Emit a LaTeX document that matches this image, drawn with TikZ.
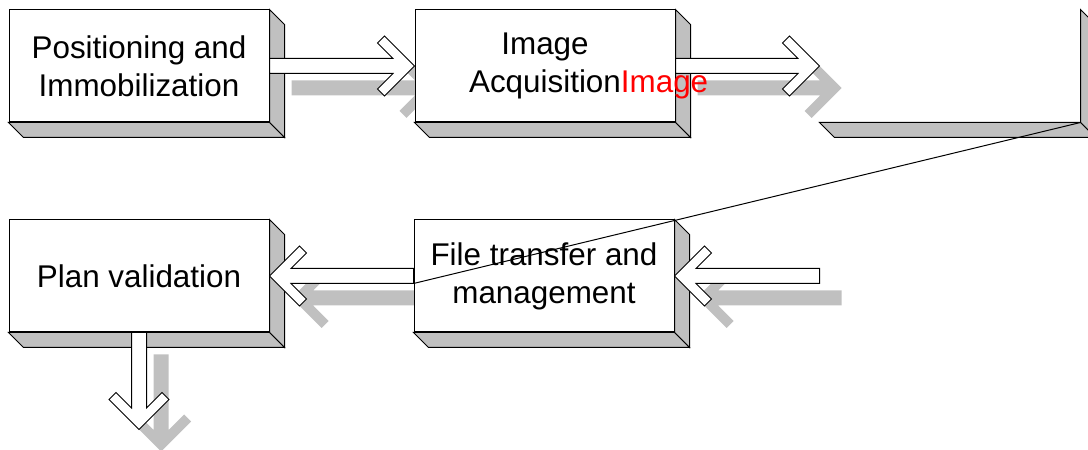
\documentclass[tikz,border=0pt]{standalone}
\usepackage{fontspec}
\setmainfont{Liberation Sans}
\usetikzlibrary{positioning,calc}

\pgfdeclarelayer{shade}
\pgfsetlayers{shade,main}

\definecolor{facegray}{RGB}{192,192,192}

\tikzset{
    stage/.style={draw, fill=white, line width=0.5pt, minimum width=130pt,
        minimum height=56pt, inner sep=0pt, align=center,
        font=\fontsize{15.7pt}{19pt}\selectfont},
    blankstage/.style={stage, draw=none, fill=none},
    face/.style={draw, fill=facegray, line width=0.5pt},
    arrowbody/.style={draw, fill=white, line width=0.5pt},
    arrowshade/.style={fill=facegray},
}

% side and bottom faces of a stage box
\newcommand{\stagefaces}[1]{%
    \filldraw[face] (#1.north east) -- ++(7.5pt,-7.5pt)
        -- ($(#1.south east)+(7.5pt,-7.5pt)$) -- (#1.south east) -- cycle;
    \filldraw[face] (#1.south west) -- (#1.south east) -- ++(7.5pt,-7.5pt)
        -- ($(#1.south west)+(7.5pt,-7.5pt)$) -- cycle;
}

% #1 style, #2 offset, #3 tail, #4 tip
\newcommand{\arrowpath}[4]{%
    \path[#1] let \p1=(#3), \p2=(#4),
        \n1={veclen(\x2-\x1,\y2-\y1)}, \n2={atan2(\y2-\y1,\x2-\x1)} in
        [shift={(\p2)}, shift={#2}, rotate=\n2]
        (-\n1,-3.75pt) -- (-10.75pt,-3.75pt) -- (-18.5pt,-11.5pt) -- (-15pt,-15pt)
        -- (0pt,0pt) -- (-15pt,15pt) -- (-18.5pt,11.5pt) -- (-10.75pt,3.75pt)
        -- (-\n1,3.75pt) -- cycle;
}

\newcommand{\flowarrow}[2]{%
    \begin{pgfonlayer}{shade}
        \arrowpath{arrowshade}{(11pt,-11pt)}{#1}{#2}
    \end{pgfonlayer}
    \arrowpath{arrowbody}{(0pt,0pt)}{#1}{#2}
}

\begin{document}
\begin{tikzpicture}[x=0.5pt, y=0.5pt]
    \useasboundingbox (0,0) rectangle (1088,450);

    \node[stage] (immob) at (139,384) {Positioning and\\Immobilization};
    \node[stage, right=72.5pt of immob] (acq) {Image\\Acquisition};
    \node[blankstage, right=72pt of acq] (next) {};

    \node[stage, below=48.5pt of immob] (valid) {Plan validation};
    \node[stage, right=72pt of valid] (xfer) {File transfer and\\management};

    \stagefaces{immob}
    \stagefaces{acq}
    \stagefaces{next}
    \stagefaces{valid}
    \stagefaces{xfer}

    \coordinate (feed) at (next.west |- xfer.east);
    \coordinate (out) at ($(valid.south)+(0,-48.5pt)$);
    \coordinate (linkend) at ($(xfer.west)+(0,-3.75pt)$);

    \flowarrow{immob.east}{acq.west}
    \flowarrow{acq.east}{next.west}
    \flowarrow{feed}{xfer.east}
    \flowarrow{xfer.west}{valid.east}
    \flowarrow{valid.south}{out}

    % overflowing caption text sits above the arrow
    \node[blankstage] (acqover) at (acq) {\phantom{Image}\\\phantom{Acquisition}\rlap{\color{red}Image}};

    \draw[line width=0.5pt] (next.south east) -- (linkend);

\end{tikzpicture}
\end{document}
